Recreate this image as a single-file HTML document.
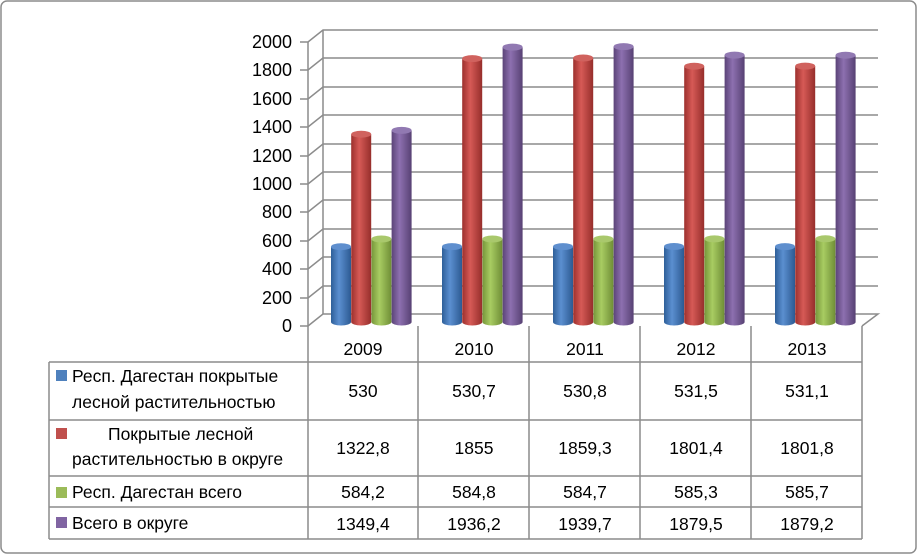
<!DOCTYPE html>
<html><head><meta charset="utf-8"><style>
body{margin:0;background:#fff}
svg{display:block;font-family:"Liberation Sans","DejaVu Sans",sans-serif}
</style></head><body>
<svg width="918" height="555" viewBox="0 0 918 555">
<defs>
<linearGradient id="gb" x1="0" x2="1"><stop offset="0" stop-color="#2e5f99"/><stop offset="0.4" stop-color="#5b8fd0"/><stop offset="1" stop-color="#2c5a92"/></linearGradient>
<linearGradient id="gr" x1="0" x2="1"><stop offset="0" stop-color="#9c302d"/><stop offset="0.4" stop-color="#d65a56"/><stop offset="1" stop-color="#962e2b"/></linearGradient>
<linearGradient id="gg" x1="0" x2="1"><stop offset="0" stop-color="#76963a"/><stop offset="0.4" stop-color="#a8cc62"/><stop offset="1" stop-color="#6f8e36"/></linearGradient>
<linearGradient id="gp" x1="0" x2="1"><stop offset="0" stop-color="#5b4478"/><stop offset="0.4" stop-color="#8d70b0"/><stop offset="1" stop-color="#574173"/></linearGradient>
</defs>
<rect x="1" y="1" width="915" height="552" rx="6" fill="#fff" stroke="#8c8c8c" stroke-width="1.5"/>
<g stroke="#8c8c8c" stroke-width="1.5" fill="none">
<line x1="323" y1="30" x2="323" y2="314"/>
<path d="M308 326 L323 314 L878 314 L862 326"/>
<path d="M300 42 L308 42 L323 30 L878 30"/>
<path d="M300 70 L308 70 L323 58 L878 58"/>
<path d="M300 99 L308 99 L323 87 L878 87"/>
<path d="M300 127 L308 127 L323 115 L878 115"/>
<path d="M300 156 L308 156 L323 144 L878 144"/>
<path d="M300 184 L308 184 L323 172 L878 172"/>
<path d="M300 212 L308 212 L323 200 L878 200"/>
<path d="M300 241 L308 241 L323 229 L878 229"/>
<path d="M300 269 L308 269 L323 257 L878 257"/>
<path d="M300 298 L308 298 L323 286 L878 286"/>
<path d="M300 326 L308 326"/>
<line x1="308" y1="42" x2="308" y2="326"/>
</g>
<g font-size="18" text-anchor="end" fill="#000">
<text x="292" y="48">2000</text><text x="292" y="76">1800</text><text x="292" y="105">1600</text>
<text x="292" y="133">1400</text><text x="292" y="162">1200</text><text x="292" y="190">1000</text>
<text x="292" y="218">800</text><text x="292" y="247">600</text><text x="292" y="275">400</text>
<text x="292" y="304">200</text><text x="292" y="332">0</text>
</g>
<!-- bars -->
<g>
<path d="M331 246.7V322A10 3.5 0 0 0 351 322V246.7Z" fill="url(#gb)"/><ellipse cx="341" cy="246.7" rx="10" ry="3.5" fill="#5f8fce"/>
<path d="M351.2 134.2V322A10 3.5 0 0 0 371.2 322V134.2Z" fill="url(#gr)"/><ellipse cx="361.2" cy="134.2" rx="10" ry="3.5" fill="#d0625e"/>
<path d="M371.4 239V322A10 3.5 0 0 0 391.4 322V239Z" fill="url(#gg)"/><ellipse cx="381.4" cy="239" rx="10" ry="3.5" fill="#a9c86c"/>
<path d="M391.6 130.4V322A10 3.5 0 0 0 411.6 322V130.4Z" fill="url(#gp)"/><ellipse cx="401.6" cy="130.4" rx="10" ry="3.5" fill="#9179b2"/>

<path d="M442 246.6V322A10 3.5 0 0 0 462 322V246.6Z" fill="url(#gb)"/><ellipse cx="452" cy="246.6" rx="10" ry="3.5" fill="#5f8fce"/>
<path d="M462.2 58.6V322A10 3.5 0 0 0 482.2 322V58.6Z" fill="url(#gr)"/><ellipse cx="472.2" cy="58.6" rx="10" ry="3.5" fill="#d0625e"/>
<path d="M482.4 239V322A10 3.5 0 0 0 502.4 322V239Z" fill="url(#gg)"/><ellipse cx="492.4" cy="239" rx="10" ry="3.5" fill="#a9c86c"/>
<path d="M502.6 47.1V322A10 3.5 0 0 0 522.6 322V47.1Z" fill="url(#gp)"/><ellipse cx="512.6" cy="47.1" rx="10" ry="3.5" fill="#9179b2"/>

<path d="M553 246.6V322A10 3.5 0 0 0 573 322V246.6Z" fill="url(#gb)"/><ellipse cx="563" cy="246.6" rx="10" ry="3.5" fill="#5f8fce"/>
<path d="M573.2 58V322A10 3.5 0 0 0 593.2 322V58Z" fill="url(#gr)"/><ellipse cx="583.2" cy="58" rx="10" ry="3.5" fill="#d0625e"/>
<path d="M593.4 239V322A10 3.5 0 0 0 613.4 322V239Z" fill="url(#gg)"/><ellipse cx="603.4" cy="239" rx="10" ry="3.5" fill="#a9c86c"/>
<path d="M613.6 46.6V322A10 3.5 0 0 0 633.6 322V46.6Z" fill="url(#gp)"/><ellipse cx="623.6" cy="46.6" rx="10" ry="3.5" fill="#9179b2"/>

<path d="M664 246.5V322A10 3.5 0 0 0 684 322V246.5Z" fill="url(#gb)"/><ellipse cx="674" cy="246.5" rx="10" ry="3.5" fill="#5f8fce"/>
<path d="M684.2 66.2V322A10 3.5 0 0 0 704.2 322V66.2Z" fill="url(#gr)"/><ellipse cx="694.2" cy="66.2" rx="10" ry="3.5" fill="#d0625e"/>
<path d="M704.4 238.9V322A10 3.5 0 0 0 724.4 322V238.9Z" fill="url(#gg)"/><ellipse cx="714.4" cy="238.9" rx="10" ry="3.5" fill="#a9c86c"/>
<path d="M724.6 55.1V322A10 3.5 0 0 0 744.6 322V55.1Z" fill="url(#gp)"/><ellipse cx="734.6" cy="55.1" rx="10" ry="3.5" fill="#9179b2"/>

<path d="M775 246.6V322A10 3.5 0 0 0 795 322V246.6Z" fill="url(#gb)"/><ellipse cx="785" cy="246.6" rx="10" ry="3.5" fill="#5f8fce"/>
<path d="M795.2 66.1V322A10 3.5 0 0 0 815.2 322V66.1Z" fill="url(#gr)"/><ellipse cx="805.2" cy="66.1" rx="10" ry="3.5" fill="#d0625e"/>
<path d="M815.4 238.8V322A10 3.5 0 0 0 835.4 322V238.8Z" fill="url(#gg)"/><ellipse cx="825.4" cy="238.8" rx="10" ry="3.5" fill="#a9c86c"/>
<path d="M835.6 55.2V322A10 3.5 0 0 0 855.6 322V55.2Z" fill="url(#gp)"/><ellipse cx="845.6" cy="55.2" rx="10" ry="3.5" fill="#9179b2"/>
</g>
<!-- table -->
<g stroke="#8c8c8c" stroke-width="1.5" fill="none">
<path d="M308 326 V539 M418 326 V539 M529 326 V539 M640 326 V539 M751 326 V539 M862 326 V539"/>
<path d="M49 362 H862 M49 420 H862 M49 476 H862 M49 507 H862 M49 539 H862 M49 362 V539"/>
</g>
<g font-size="17.5" fill="#000" text-anchor="middle">
<text x="363" y="355">2009</text><text x="474" y="355">2010</text><text x="585" y="355">2011</text><text x="696" y="355">2012</text><text x="807" y="355">2013</text>
<text x="363" y="397">530</text><text x="474" y="397">530,7</text><text x="585" y="397">530,8</text><text x="696" y="397">531,5</text><text x="807" y="397">531,1</text>
<text x="363" y="454">1322,8</text><text x="474" y="454">1855</text><text x="585" y="454">1859,3</text><text x="696" y="454">1801,4</text><text x="807" y="454">1801,8</text>
<text x="363" y="498">584,2</text><text x="474" y="498">584,8</text><text x="585" y="498">584,7</text><text x="696" y="498">585,3</text><text x="807" y="498">585,7</text>
<text x="363" y="530">1349,4</text><text x="474" y="530">1936,2</text><text x="585" y="530">1939,7</text><text x="696" y="530">1879,5</text><text x="807" y="530">1879,2</text>
</g>
<g font-size="17.5" fill="#000">
<rect x="56" y="370" width="11" height="11" fill="#4f81bd"/>
<text x="72" y="382">Респ. Дагестан покрытые</text><text x="72" y="408">лесной растительностью</text>
<rect x="56" y="428" width="11" height="11" fill="#c0504d"/>
<text x="108" y="440">Покрытые лесной</text><text x="72" y="465">растительностью в округе</text>
<rect x="56" y="487" width="11" height="11" fill="#9bbb59"/>
<text x="72" y="498">Респ. Дагестан всего</text>
<rect x="56" y="517" width="11" height="11" fill="#8064a2"/>
<text x="72" y="529">Всего в округе</text>
</g>
</svg>
</body></html>
